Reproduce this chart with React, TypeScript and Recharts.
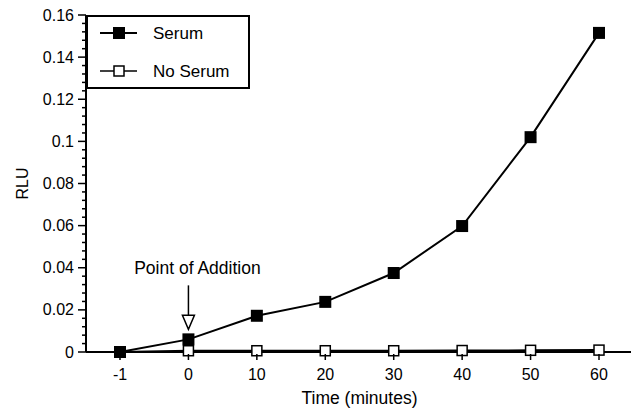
import {
  Legend,
  Line,
  LineChart,
  ReferenceDot,
  XAxis,
  YAxis,
} from "recharts"

const times = ["-1", "0", "10", "20", "30", "40", "50", "60"]
const serum = [0, 0.006, 0.0172, 0.0238, 0.0375, 0.0598, 0.102, 0.1515]
const noSerum = [0, 0.0006, 0.0006, 0.0006, 0.0006, 0.0007, 0.0008, 0.0009]
const majorTicks = [0, 0.02, 0.04, 0.06, 0.08, 0.1, 0.12, 0.14, 0.16]

const data = times.map((t, i) => ({ t, serum: serum[i], noSerum: noSerum[i] }))

// four minor ticks between each pair of labelled ticks
const yTicks: number[] = []
majorTicks.forEach((v, i) => {
  yTicks.push(v)
  const next = majorTicks[i + 1]
  if (next !== undefined) {
    for (let k = 1; k < 5; k++) yTicks.push(+(v + ((next - v) * k) / 5).toFixed(4))
  }
})

const FONT = "'Liberation Sans', Arial, Helvetica, sans-serif"

function YTick({ x, y, payload }: any) {
  const major = majorTicks.some((m) => Math.abs(m - payload.value) < 1e-6)
  return (
    <g>
      <line x1={x - (major ? 8 : 4)} x2={x} y1={y} y2={y} stroke="#000" strokeWidth={1.5} />
      {major && (
        <text x={x - 12} y={y + 5.5} textAnchor="end" fontSize={16} fontFamily={FONT} fill="#000">
          {String(payload.value)}
        </text>
      )}
    </g>
  )
}

function XTick({ x, y, payload }: any) {
  return (
    <g>
      <line x1={x} x2={x} y1={y} y2={y + 6} stroke="#000" strokeWidth={1.5} />
      <text x={x} y={y + 26} textAnchor="middle" fontSize={16} fontFamily={FONT} fill="#000">
        {payload.value}
      </text>
    </g>
  )
}

function FilledSquare({ cx, cy, index }: any) {
  return <rect key={index} x={cx - 6} y={cy - 6} width={12} height={12} fill="#000" />
}

function HollowSquare({ cx, cy, index }: any) {
  return (
    <rect
      key={index}
      x={cx - 5}
      y={cy - 5}
      width={10}
      height={10}
      fill="#fff"
      stroke="#000"
      strokeWidth={1.5}
    />
  )
}

function RluLabel({ viewBox }: any) {
  const x = viewBox.x + 14
  const y = viewBox.y + viewBox.height / 2
  return (
    <text
      x={x}
      y={y}
      transform={`rotate(-90 ${x} ${y})`}
      textAnchor="middle"
      dominantBaseline="central"
      fontSize={16}
      fontFamily={FONT}
      fill="#000"
    >
      RLU
    </text>
  )
}

function LegendBox() {
  return (
    <svg width={164} height={74} style={{ display: "block" }}>
      <rect x={1} y={1} width={162} height={72} fill="#fff" stroke="#000" strokeWidth={2} />
      <line x1={14} x2={51} y1={18} y2={18} stroke="#000" strokeWidth={2} />
      <rect x={27} y={12} width={12} height={12} fill="#000" />
      <text x={67} y={24} fontSize={17} fontFamily={FONT} fill="#000">Serum</text>
      <line x1={14} x2={51} y1={56} y2={56} stroke="#000" strokeWidth={1.5} />
      <rect x={28} y={51} width={10} height={10} fill="#fff" stroke="#000" strokeWidth={1.5} />
      <text x={67} y={62} fontSize={17} fontFamily={FONT} fill="#000">No Serum</text>
    </svg>
  )
}

function AdditionArrow({ cx, cy }: any) {
  return (
    <g>
      <text x={cx + 9} y={cy - 65} textAnchor="middle" fontSize={17.5} fontFamily={FONT} fill="#000">
        Point of Addition
      </text>
      <line x1={cx} x2={cx} y1={cy - 54} y2={cy - 24} stroke="#000" strokeWidth={1.5} />
      <path
        d={`M ${cx - 6} ${cy - 24} L ${cx + 6} ${cy - 24} L ${cx} ${cy - 10} Z`}
        fill="#fff"
        stroke="#000"
        strokeWidth={1.5}
      />
    </g>
  )
}

export default function App() {
  return (
    <LineChart
      width={631}
      height={404}
      data={data}
      margin={{ top: 7, right: 6, left: 0, bottom: 0 }}
      style={{ fontFamily: FONT }}
    >
      <XAxis
        dataKey="t"
        height={60}
        padding={{ left: 34, right: 34 }}
        tickSize={0}
        tickLine={false}
        axisLine={{ stroke: "#000", strokeWidth: 2 }}
        tick={<XTick />}
        interval={0}
        label={{
          value: "Time (minutes)",
          position: "insideBottom",
          offset: 8,
          fontSize: 17.5,
          fill: "#000",
          fontFamily: FONT,
        }}
      />
      <XAxis
        xAxisId="top"
        dataKey="t"
        orientation="top"
        height={0}
        tick={false}
        tickLine={false}
        axisLine={{ stroke: "#000", strokeWidth: 1.5 }}
      />
      <YAxis
        width={78}
        domain={[0, 0.16]}
        ticks={yTicks}
        interval={0}
        tickSize={0}
        tickMargin={0}
        tickLine={false}
        axisLine={{ stroke: "#000", strokeWidth: 2 }}
        tick={<YTick />}
        label={<RluLabel />}
      />
      <YAxis
        yAxisId="right"
        orientation="right"
        width={0}
        domain={[0, 0.16]}
        tick={false}
        tickLine={false}
        axisLine={{ stroke: "#000", strokeWidth: 1.5 }}
      />
      <Line
        dataKey="noSerum"
        stroke="#000"
        strokeWidth={2}
        dot={<HollowSquare />}
        activeDot={false}
        isAnimationActive={false}
      />
      <Line
        dataKey="serum"
        stroke="#000"
        strokeWidth={2}
        dot={<FilledSquare />}
        activeDot={false}
        isAnimationActive={false}
      />
      <ReferenceDot x="0" y={serum[1]} r={0} shape={<AdditionArrow />} />
      <Legend
        layout="horizontal"
        verticalAlign="middle"
        content={<LegendBox />}
        wrapperStyle={{ top: 7, left: 78, width: 164, height: 74 }}
      />
    </LineChart>
  )
}
